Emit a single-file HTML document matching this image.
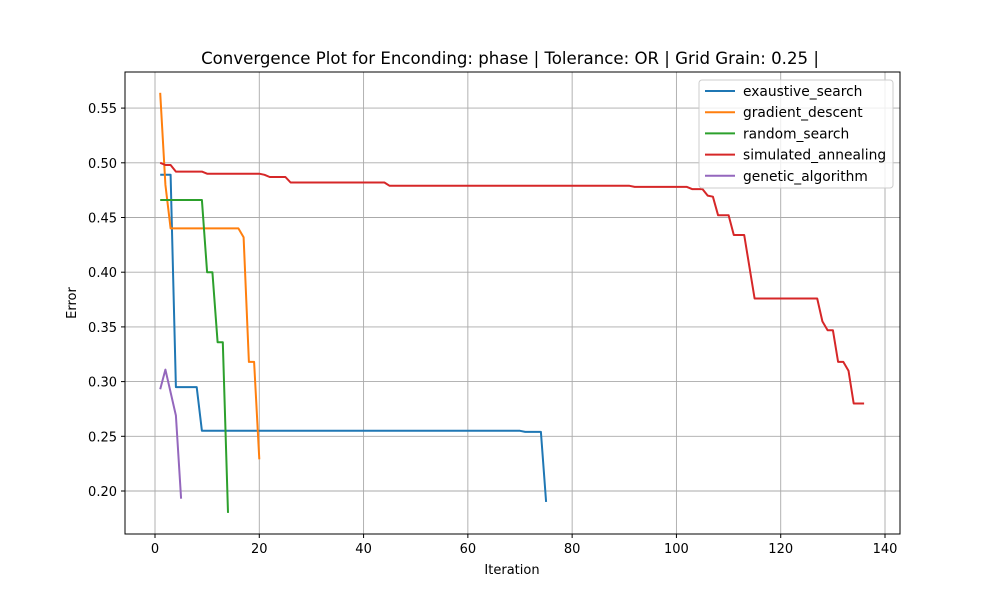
<!DOCTYPE html>
<html><head><meta charset="utf-8"><style>body{margin:0;background:#fff}svg text{font-family:"DejaVu Sans","Liberation Sans",sans-serif}</style></head>
<body>
<svg width="1000" height="600" xmlns="http://www.w3.org/2000/svg">
<rect width="1000" height="600" fill="#fff"/>
<text x="510" y="64" font-size="16.6" text-anchor="middle">Convergence Plot for Enconding: phase | Tolerance: OR | Grid Grain: 0.25 |</text>
<g id="grid"></g><g id="ticks"></g><g id="lines"></g>
<rect x="125" y="72" width="775" height="462" fill="none" stroke="#000" stroke-width="1"/>
<text x="512" y="574" font-size="13" text-anchor="middle">Iteration</text>
<text transform="translate(76,303) rotate(-90)" font-size="13" text-anchor="middle">Error</text>
<g id="legend"></g>
</svg>
<script>
const xTicks=[0,20,40,60,80,100,120,140];
const yTicks=[0.20,0.25,0.30,0.35,0.40,0.45,0.50,0.55];
const seriesNames=["exaustive_search","gradient_descent","random_search","simulated_annealing","genetic_algorithm"];
const seriesColors=["#1f77b4","#ff7f0e","#2ca02c","#d62728","#9467bd"];
const exX=[1,3,4,8,9,70,71,74,75];
const exY=[0.489,0.489,0.295,0.295,0.255,0.255,0.254,0.254,0.19];
const gdX=[1,2,3,16,17,18,19,20];
const gdY=[0.564,0.48,0.44,0.44,0.432,0.318,0.318,0.229];
const rsX=[1,9,10,11,12,13,14];
const rsY=[0.466,0.466,0.40,0.40,0.336,0.336,0.18];
const saX=[1,2,3,4,9,10,20,21,22,25,26,44,45,91,92,102,103,105,106,107,108,110,111,113,115,127,128,129,130,131,132,133,134,136];
const saY=[0.500,0.498,0.498,0.492,0.492,0.490,0.490,0.489,0.487,0.487,0.482,0.482,0.479,0.479,0.478,0.478,0.476,0.476,0.470,0.469,0.452,0.452,0.434,0.434,0.376,0.376,0.355,0.347,0.347,0.318,0.318,0.310,0.280,0.280];
const gaX=[1,2,4,5];
const gaY=[0.293,0.311,0.269,0.193];
const allX=[exX,gdX,rsX,saX,gaX], allY=[exY,gdY,rsY,saY,gaY];
const NS="http://www.w3.org/2000/svg";
const sx=v=>155+v*5.2143, sy=v=>491-(v-0.2)*1094;
function mk(t,a,p){const e=document.createElementNS(NS,t);for(const k in a)e.setAttribute(k,a[k]);p.appendChild(e);return e;}
const grid=document.getElementById('grid'),ticks=document.getElementById('ticks'),lines=document.getElementById('lines'),leg=document.getElementById('legend');
xTicks.forEach(t=>{const x=sx(t);
 let g=mk('line',{x1:x,x2:x,y1:72,y2:534,stroke:'#aaaaaa','stroke-width':0.9},grid);
 
 mk('line',{x1:x,x2:x,y1:534,y2:538,stroke:'#000'},ticks);
 let tx=mk('text',{x:x,y:553,'font-size':13,'text-anchor':'middle'},ticks);tx.textContent=t;
 });
yTicks.forEach(t=>{const y=sy(t);
 let g=mk('line',{x1:125,x2:900,y1:y,y2:y,stroke:'#aaaaaa','stroke-width':0.9},grid);
 
 mk('line',{x1:121,x2:125,y1:y,y2:y,stroke:'#000'},ticks);
 let tx=mk('text',{x:117,y:y+5,'font-size':13,'text-anchor':'end'},ticks);tx.textContent=t.toFixed(2);
 });
allX.forEach((xs,i)=>{const pts=xs.map((x,j)=>sx(x).toFixed(1)+','+sy(allY[i][j]).toFixed(1)).join(' ');
 let p=mk('polyline',{points:pts,fill:'none',stroke:seriesColors[i],'stroke-width':2,'stroke-linejoin':'round'},lines);
 });
let box=mk('rect',{x:699,y:80,width:194,height:108,rx:3,fill:'#fff','fill-opacity':0.8,stroke:'#ccc'},leg);

seriesNames.forEach((n,i)=>{const y=91+i*21.2;
 let l=mk('line',{x1:705,x2:735,y1:y,y2:y,stroke:seriesColors[i],'stroke-width':2},leg);
 
 let t=mk('text',{x:743,y:y+5,'font-size':13.8},leg);t.textContent=n;
 });
</script>
</body></html>
